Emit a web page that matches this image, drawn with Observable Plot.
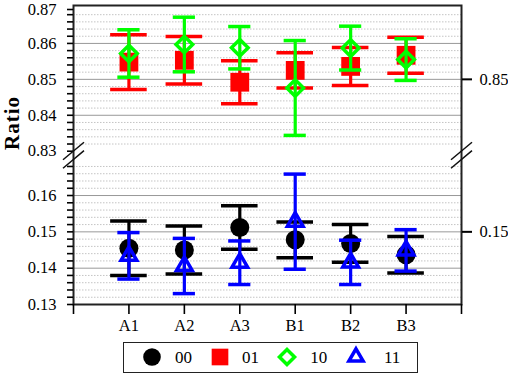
<!DOCTYPE html>
<html><head><meta charset="utf-8">
<script src="https://cdn.jsdelivr.net/npm/d3@7"></script>
<script src="https://cdn.jsdelivr.net/npm/@observablehq/plot@0.6"></script>
<style>
body{margin:0;background:#fff;}
#wrap{position:relative;width:508px;height:375px;font-family:"Liberation Serif","Times New Roman",serif;color:#000;}
#wrap svg text{font-family:"Liberation Serif","Times New Roman",serif;}
#wrap svg text.ratio{letter-spacing:1px;}
#legend{position:absolute;left:123px;top:342px;width:295px;height:31px;box-sizing:border-box;border:1.5px solid #222;}
#legend svg{position:absolute;overflow:visible;}
#legend span{position:absolute;font-size:17px;transform:translate(-50%,-50%);line-height:1;}
</style></head><body><div id="wrap"></div>
<script>
// ---- data ----
const categories = ["A1","A2","A3","B1","B2","B3"];
const seriesNames = ["00","01","10","11"];
const value00 = [0.1455, 0.1450, 0.1512, 0.1478, 0.1468, 0.1437];
const error00 = [0.0075, 0.0066, 0.0060, 0.0049, 0.0052, 0.0050];
const value01 = [0.8548, 0.8553, 0.8492, 0.8525, 0.8536, 0.8567];
const error01 = [0.0076, 0.0066, 0.0060, 0.0049, 0.0053, 0.0050];
const value10 = [0.8572, 0.8597, 0.8588, 0.8476, 0.8587, 0.8555];
const error10 = [0.0066, 0.0076, 0.0059, 0.0132, 0.0061, 0.0058];
const value11 = [0.1434, 0.1406, 0.1415, 0.1528, 0.1416, 0.1449];
const error11 = [0.0064, 0.0076, 0.0060, 0.0131, 0.0061, 0.0057];
const yTicksLeft = [0.13, 0.14, 0.15, 0.16, 0.83, 0.84, 0.85, 0.86];
const yTickTop = [0.87];
const yTicksRight = [0.15, 0.85];
const yMajorGrid = [0.14, 0.15, 0.16, 0.84, 0.85, 0.86];
const yBreakDomain = [0.13, 0.17, 0.83, 0.87];

// ---- build ----
const values = {"00": value00, "01": value01, "10": value10, "11": value11};
const errors = {"00": error00, "01": error01, "10": error10, "11": error11};
const rowsOf = s => categories.map((c, i) => ({series: s, cat: c, x: i + 1, value: values[s][i], err: errors[s][i]}));

const style = {
  "00": {color: "#000000", cap: 0.33, symbol: "circle", d3sym: d3.symbolCircle, r: 9.5, fill: "#000000", stroke: "none", sw: 0},
  "01": {color: "#ff0000", cap: 0.33, symbol: "square", d3sym: d3.symbolSquare, r: 10.6, fill: "#ff0000", stroke: "none", sw: 0},
  "10": {color: "#00ff00", cap: 0.2, symbol: "diamond2", d3sym: d3.symbolDiamond2, r: 7.5, fill: "none", stroke: "#00ff00", sw: 3.5},
  "11": {color: "#0000ff", cap: 0.2, symbol: "triangle2", d3sym: d3.symbolTriangle2, r: 7.5, fill: "none", stroke: "#0000ff", sw: 3.5}
};

const minor = [];
for (const a of [0.13, 0.83]) {
  for (let k = 1; k < 20; k++) {
    const v = +(a + k * 0.002).toFixed(3);
    if (Math.abs(v * 100 - Math.round(v * 100)) > 1e-6) minor.push(v);
  }
}

function seriesMarks(s) {
  const st = style[s];
  const rows = rowsOf(s);
  return [
    Plot.ruleX(rows, {x: "x", y1: d => d.value - d.err, y2: d => d.value + d.err, stroke: st.color, strokeWidth: 3.2}),
    Plot.ruleY(rows, {y: d => d.value + d.err, x1: d => d.x - st.cap, x2: d => d.x + st.cap, stroke: st.color, strokeWidth: 3.5}),
    Plot.ruleY(rows, {y: d => d.value - d.err, x1: d => d.x - st.cap, x2: d => d.x + st.cap, stroke: st.color, strokeWidth: 3.5}),
    Plot.dot(rows, {x: "x", y: "value", symbol: st.symbol, r: st.r, fill: st.fill, stroke: st.stroke, strokeWidth: st.sw, strokeLinejoin: "miter"})
  ];
}

const breakSymbol = {draw(ctx) {
  ctx.moveTo(-10.5, 4.6); ctx.lineTo(10.5, -13);
  ctx.moveTo(-10.5, 13); ctx.lineTo(10.5, -4.6);
}};
const breakY = (yBreakDomain[1] + yBreakDomain[2]) / 2;

const chart = Plot.plot({
  width: 508,
  height: 340,
  marginLeft: 73,
  marginRight: 47,
  marginTop: 5,
  marginBottom: 36,
  style: {fontFamily: "'Liberation Serif', serif", fontSize: "17px", background: "#fff", color: "#000"},
  x: {type: "linear", domain: [0, 7], range: [73, 461]},
  y: {type: "linear", domain: yBreakDomain, range: [304, 158.7, 150.7, 7]},
  marks: [
    Plot.gridY(minor, {stroke: "#c4c4c4", strokeOpacity: 1, strokeDasharray: "1.5,1.5"}),
    Plot.gridY(yMajorGrid, {stroke: "#999", strokeOpacity: 1}),
    ...seriesMarks("01"),
    ...seriesMarks("10"),
    ...seriesMarks("00"),
    ...seriesMarks("11"),
    Plot.frame({stroke: "#222", strokeWidth: 2}),
    Plot.axisY(minor, {anchor: "left", tickSize: 6, tickFormat: () => "", strokeWidth: 1.6, label: null}),
    Plot.axisY(yTicksLeft, {anchor: "left", tickSize: 6, tickPadding: 11, tickFormat: d => d.toFixed(2), strokeWidth: 1.6, fontSize: 16.5, label: null}),
    Plot.axisY(yTickTop, {anchor: "left", tickSize: 6, tickPadding: 11, tickFormat: d => d.toFixed(2), strokeWidth: 1.6, fontSize: 16.5, dy: 2, label: null}),
    Plot.axisY(yTicksRight, {anchor: "right", tickSize: 10, tickPadding: 8, tickFormat: d => d.toFixed(2), strokeWidth: 2, fontSize: 16.5, label: null}),
    Plot.axisX(d3.range(0, categories.length + 2), {tickSize: 10, tickPadding: 5, tickFormat: d => categories[d - 1] ?? "", strokeWidth: 1.6, fontSize: 16.5, label: null}),
    Plot.dot([0, categories.length + 1], {x: d => d, y: () => breakY, symbol: breakSymbol, r: 5, fill: "none", stroke: "#111", strokeWidth: 1.5}),
    Plot.text(["Ratio"], {frameAnchor: "left", text: d => d, rotate: -90, dx: -61.5, dy: -5, fontWeight: "bold", fontSize: 21})
  ]
});

const wrap = document.getElementById("wrap");
wrap.appendChild(chart);
d3.select(chart).selectAll("text").filter(function () { return this.textContent === "Ratio"; })
  .attr("class", "ratio");

// ---- legend ----
const legend = document.createElement("div");
legend.id = "legend";
wrap.appendChild(legend);
const legendSym = {"00": 8.8, "01": 9.4, "10": 6.8, "11": 6.8};
const legendX = {"00": [29.3, 61], "01": [97, 128], "10": [164.3, 196.3], "11": [233.7, 269.7]};
const cy = 15.5;
for (const s of seriesNames) {
  const st = style[s];
  const r = legendSym[s];
  const sym = d3.symbol(st.d3sym, r * r * Math.PI)();
  const svg = d3.create("svg").attr("width", 1).attr("height", 1)
    .style("left", legendX[s][0] - 1.5 + "px").style("top", cy - 1.5 + "px");
  svg.append("path").attr("d", sym)
    .attr("fill", st.fill).attr("stroke", st.stroke === "none" ? null : st.stroke)
    .attr("stroke-width", st.sw).attr("stroke-linejoin", "miter");
  legend.appendChild(svg.node());
  const t = document.createElement("span");
  t.textContent = s;
  t.style.left = legendX[s][1] - 1.5 + "px";
  t.style.top = cy - 1.5 + "px";
  legend.appendChild(t);
}
</script></body></html>
